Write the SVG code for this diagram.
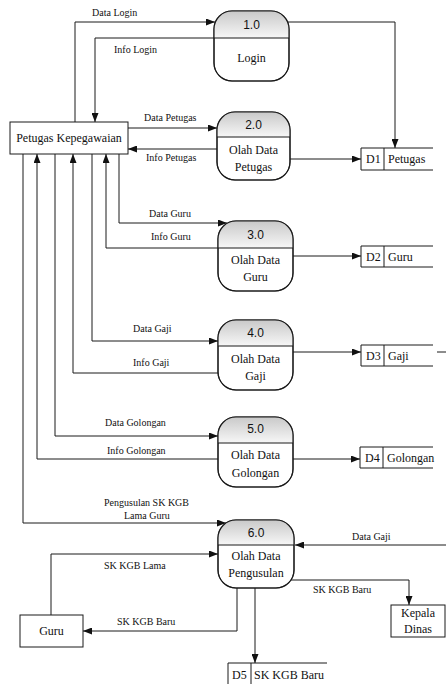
<svg xmlns="http://www.w3.org/2000/svg" width="446" height="684" viewBox="0 0 446 684">
<style>
.ln{fill:none;stroke:#1a1a1a;stroke-width:1}
.ar{marker-end:url(#ah)}
.box{fill:#fff;stroke:#1a1a1a;stroke-width:1}
.hd{fill:url(#hg)}
.ol{fill:none;stroke:#1a1a1a;stroke-width:1.2}
.num{font-family:'Liberation Sans',Arial,sans-serif;font-size:12px;fill:#111;text-anchor:middle}
.nt{font-family:'Liberation Serif','DejaVu Serif',serif;font-size:12px;fill:#111;text-anchor:middle}
.st{font-family:'Liberation Serif','DejaVu Serif',serif;font-size:12px;fill:#111}
.lb{font-family:'Liberation Serif','DejaVu Serif',serif;font-size:10px;fill:#111}
</style>
<defs>
<linearGradient id="hg" x1="0" y1="0" x2="0" y2="1">
<stop offset="0" stop-color="#c9c9c9"/>
<stop offset="1" stop-color="#f7f7f7"/>
</linearGradient>
<marker id="ah" markerUnits="userSpaceOnUse" markerWidth="9" markerHeight="7" refX="9" refY="3.5" orient="auto">
<path d="M0,0 L9,3.5 L0,7 z" fill="#111"/>
</marker>
</defs>

<g id="connectors">
<path class="ln ar" d="M75,122 V22 H215"/>
<path class="ln ar" d="M214,38 H95 V122"/>
<path class="ln ar" d="M288,22 H395 V148"/>
<path class="ln ar" d="M128,128 H217"/>
<path class="ln ar" d="M217,149 H128"/>
<path class="ln ar" d="M290,159 H361"/>
<path class="ln ar" d="M119,154 V223 H227"/>
<path class="ln ar" d="M218,248 H106 V154"/>
<path class="ln ar" d="M293,256 H361"/>
<path class="ln ar" d="M92,154 V341 H218"/>
<path class="ln ar" d="M218,373 H73 V154"/>
<path class="ln ar" d="M293,352 H361"/>
<path class="ln" d="M437,352 H446"/>
<path class="ln ar" d="M55,154 V436 H218"/>
<path class="ln ar" d="M218,459 H37 V154"/>
<path class="ln ar" d="M293,459 H360"/>
<path class="ln ar" d="M23,154 V523 H226"/>
<path class="ln ar" d="M446,545 H295"/>
<path class="ln ar" d="M51,615 V554 H218"/>
<path class="ln ar" d="M237,588 V631 H83"/>
<path class="ln ar" d="M291,580 H409 V605"/>
<path class="ln ar" d="M255,588 V663"/>
<g font-family="'Liberation Serif', 'DejaVu Serif', serif" font-size="10">
<text class="lb" x="92" y="16">Data Login</text>
<text class="lb" x="114" y="53">Info Login</text>
<text class="lb" x="144" y="121">Data Petugas</text>
<text class="lb" x="146" y="161">Info Petugas</text>
<text class="lb" x="149" y="217">Data Guru</text>
<text class="lb" x="151" y="240">Info Guru</text>
<text class="lb" x="133" y="332">Data Gaji</text>
<text class="lb" x="133" y="366">Info Gaji</text>
<text class="lb" x="105" y="426">Data Golongan</text>
<text class="lb" x="107" y="454">Info Golongan</text>
<text class="lb" x="104" y="506">Pengusulan SK KGB</text>
<text class="lb" x="124" y="519">Lama Guru</text>
<text class="lb" x="352" y="540">Data Gaji</text>
<text class="lb" x="104" y="569">SK KGB Lama</text>
<text class="lb" x="117" y="625">SK KGB Baru</text>
<text class="lb" x="313" y="593">SK KGB Baru</text>
</g>
</g>

<g id="petugas-kepegawaian">
<rect class="box" x="10" y="122" width="118" height="32"/>
<text class="nt" x="69" y="142">Petugas Kepegawaian</text>
</g>

<g id="p1">
<rect class="box" x="214" y="11" width="75" height="70" rx="18"/>
<path class="hd" d="M214,38 V29 A18,18 0 0 1 232,11 H271 A18,18 0 0 1 289,29 V38 Z"/>
<path class="ln" d="M214,38 H289"/>
<rect class="ol" x="214" y="11" width="75" height="70" rx="18"/>
<text class="num" x="251.5" y="29">1.0</text>
<text class="nt" x="251.5" y="62">Login</text>
</g>

<g id="p2">
<rect class="box" x="217" y="112" width="73" height="68" rx="18"/>
<path class="hd" d="M217,137 V130 A18,18 0 0 1 235,112 H272 A18,18 0 0 1 290,130 V137 Z"/>
<path class="ln" d="M217,137 H290"/>
<rect class="ol" x="217" y="112" width="73" height="68" rx="18"/>
<text class="num" x="253.5" y="129">2.0</text>
<text class="nt" x="253.5" y="154">Olah Data</text>
<text class="nt" x="253.5" y="171">Petugas</text>
</g>

<g id="p3">
<rect class="box" x="218" y="221" width="75" height="70" rx="18"/>
<path class="hd" d="M218,248 V239 A18,18 0 0 1 236,221 H275 A18,18 0 0 1 293,239 V248 Z"/>
<path class="ln" d="M218,248 H293"/>
<rect class="ol" x="218" y="221" width="75" height="70" rx="18"/>
<text class="num" x="255.5" y="239">3.0</text>
<text class="nt" x="255.5" y="264">Olah Data</text>
<text class="nt" x="255.5" y="281">Guru</text>
</g>

<g id="p4">
<rect class="box" x="218" y="320" width="75" height="70" rx="18"/>
<path class="hd" d="M218,346 V338 A18,18 0 0 1 236,320 H275 A18,18 0 0 1 293,338 V346 Z"/>
<path class="ln" d="M218,346 H293"/>
<rect class="ol" x="218" y="320" width="75" height="70" rx="18"/>
<text class="num" x="255.5" y="337">4.0</text>
<text class="nt" x="255.5" y="363">Olah Data</text>
<text class="nt" x="255.5" y="380">Gaji</text>
</g>

<g id="p5">
<rect class="box" x="218" y="417" width="75" height="70" rx="18"/>
<path class="hd" d="M218,443 V435 A18,18 0 0 1 236,417 H275 A18,18 0 0 1 293,435 V443 Z"/>
<path class="ln" d="M218,443 H293"/>
<rect class="ol" x="218" y="417" width="75" height="70" rx="18"/>
<text class="num" x="255.5" y="433">5.0</text>
<text class="nt" x="255.5" y="459">Olah Data</text>
<text class="nt" x="255.5" y="477">Golongan</text>
</g>

<g id="p6">
<rect class="box" x="218" y="520" width="76" height="68" rx="18"/>
<path class="hd" d="M218,545 V538 A18,18 0 0 1 236,520 H276 A18,18 0 0 1 294,538 V545 Z"/>
<path class="ln" d="M218,545 H294"/>
<rect class="ol" x="218" y="520" width="76" height="68" rx="18"/>
<text class="num" x="256" y="537">6.0</text>
<text class="nt" x="256" y="560">Olah Data</text>
<text class="nt" x="256" y="577">Pengusulan</text>
</g>

<g id="d1">
<path class="ln" d="M433,148 H361 V170 H433 M384,148 V170"/>
<text class="st" x="366" y="163">D1</text>
<text class="st" x="388" y="163">Petugas</text>
</g>

<g id="d2">
<path class="ln" d="M433,246 H361 V267 H433 M384,246 V267"/>
<text class="st" x="366" y="261">D2</text>
<text class="st" x="388" y="261">Guru</text>
</g>

<g id="d3">
<path class="ln" d="M433,345 H361 V366 H433 M384,345 V366"/>
<text class="st" x="366" y="360">D3</text>
<text class="st" x="388" y="360">Gaji</text>
</g>

<g id="d4">
<path class="ln" d="M433,447 H360 V468 H433 M383,447 V468"/>
<text class="st" x="365" y="462">D4</text>
<text class="st" x="387" y="462">Golongan</text>
</g>

<g id="d5">
<path class="ln" d="M327,663 H228 V684 M251,663 V684"/>
<text class="st" x="232" y="679">D5</text>
<text class="st" x="254" y="679">SK KGB Baru</text>
</g>

<g id="guru">
<rect class="box" x="20" y="615" width="63" height="32"/>
<text class="nt" x="51.5" y="635">Guru</text>
</g>

<g id="kepala-dinas">
<rect class="box" x="391" y="605" width="54" height="32"/>
<text class="nt" x="418" y="617">Kepala</text>
<text class="nt" x="418" y="633">Dinas</text>
</g>
</svg>
